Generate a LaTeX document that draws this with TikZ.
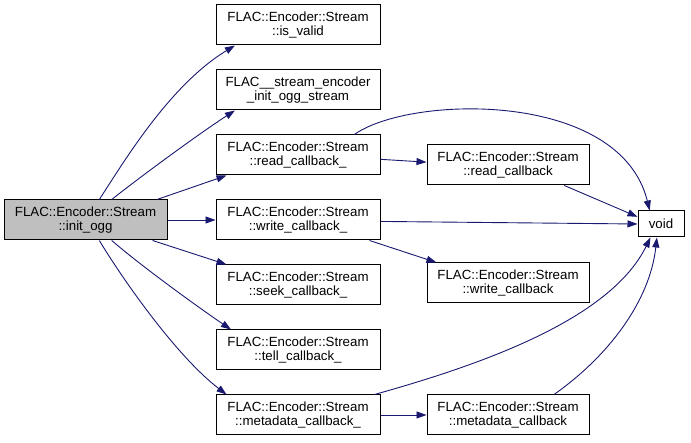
\documentclass[tikz,border=0pt]{standalone}
\usepackage{fontspec}
\setmainfont{Liberation Sans}
\usetikzlibrary{arrows.meta,positioning,calc}
\definecolor{edgeblue}{RGB}{25,25,112}
\definecolor{rootgray}{RGB}{191,191,191}

\begin{document}
\begin{tikzpicture}[x=1pt,y=-1pt,
  fn/.style={draw=black,line width=1pt,rectangle,inner sep=0pt,align=center,
    minimum height=40pt,font=\fontsize{13.3}{14.5}\selectfont},
  colA/.style={fn,minimum width=164pt},
  colB/.style={fn,minimum width=162pt},
  call/.style={draw=edgeblue,line width=0.9pt,-{Triangle[length=10pt,width=7pt]}}]

  \useasboundingbox (0,0) rectangle (691,443);

  % ------- caller -------
  \node[fn,minimum width=163pt,fill=rootgray] (initogg) at (85.5,220) {FLAC::Encoder::Stream\\::init\_ogg};

  % ------- first column of callees -------
  \node[colA] (isvalid)   at (298,25)  {FLAC::Encoder::Stream\\::is\_valid};
  \node[colA] (oggstream) at (298,90)  {FLAC\_\_stream\_encoder\\\_init\_ogg\_stream};
  \node[colA] (readcbu)   at (298,155) {FLAC::Encoder::Stream\\::read\_callback\_};
  \node[colA] (writecbu)  at (298,220) {FLAC::Encoder::Stream\\::write\_callback\_};
  \node[colA] (seekcbu)   at (298,285) {FLAC::Encoder::Stream\\::seek\_callback\_};
  \node[colA] (tellcbu)   at (298,350) {FLAC::Encoder::Stream\\::tell\_callback\_};
  \node[colA] (metacbu)   at (298,415) {FLAC::Encoder::Stream\\::metadata\_callback\_};

  % ------- second column -------
  \node[colB] (readcb)  at (508,165) {FLAC::Encoder::Stream\\::read\_callback};
  \node[colB] (writecb) at (508,283) {FLAC::Encoder::Stream\\::write\_callback};
  \node[colB] (metacb)  at (508,415) {FLAC::Encoder::Stream\\::metadata\_callback};
  \node[fn,minimum width=46pt,minimum height=26pt] (void) at (661,224) {void};

  % ------- calls from init_ogg -------
  \draw[call] (initogg.56) .. controls (125,160) and (170,85) .. (isvalid.198);
  \draw[call] (initogg.38) .. controls (140,177) and (200,133) .. (oggstream.198);
  \draw[call] (initogg.16.5) -- (readcbu.196);
  \draw[call] (initogg.east) -- (writecbu.west);
  \draw[call] (initogg.343.5) -- (seekcbu.164);
  \draw[call] (initogg.322) .. controls (140,265) and (195,305) .. (tellcbu.163);
  \draw[call] (initogg.304) .. controls (120,275) and (175,355) .. (metacbu.164);

  % ------- calls further on -------
  \draw[call] (readcbu.20) .. controls (410,95) and (620,90) .. (void.130);
  \draw[call] (readcbu.-3) -- (readcb.178);
  \draw[call] (writecbu.-1) -- (void.west);
  \draw[call] (writecbu.-16) -- (writecb.164);
  \draw[call] (readcb.-20) -- (void.163);
  \draw[call] (metacbu.15.5) .. controls (480,365) and (610,320) .. (void.232);
  \draw[call] (metacbu.east) -- (metacb.west);
  \draw[call] (metacb.24.4) .. controls (610,355) and (650,300) .. (void.253);

\end{tikzpicture}
\end{document}
